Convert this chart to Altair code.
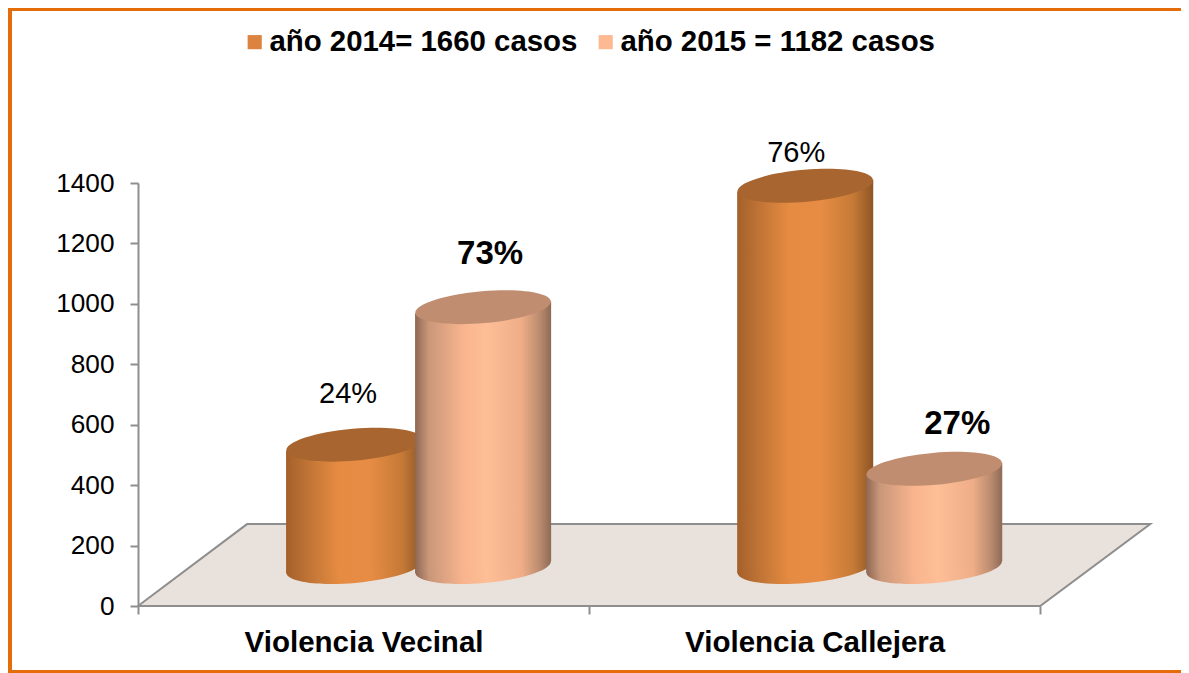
import altair as alt
import pandas as pd

categories = ["Violencia Vecinal", "Violencia Callejera"]
series = ["año 2014= 1660 casos", "año 2015 = 1182 casos"]
values_2014 = [405, 1262]
values_2015 = [860, 325]
labels_2014 = ["24%", "76%"]
labels_2015 = ["73%", "27%"]
y_ticks = [0, 200, 400, 600, 800, 1000, 1200, 1400]

FONT = "Liberation Sans"
BASE = 129        # height of the floor centre line on the value axis
TILT = 20         # half the rise of a cylinder's rim across its width
HALF = 0.1508     # half cylinder width in category units
CENTRES = [0.479, 0.765]  # cylinder centres inside a category unit
W, H = 1015, 423
GREY = "#8E8E8E"
ORANGE = "#E46C0A"

grad14 = {"gradient": "linear", "x1": 0, "x2": 1, "y1": 0, "y2": 0, "stops": [
    {"offset": 0, "color": "#A4602A"}, {"offset": 0.12, "color": "#B96F33"},
    {"offset": 0.38, "color": "#E58B42"}, {"offset": 0.62, "color": "#E68C44"},
    {"offset": 0.85, "color": "#C67A36"}, {"offset": 1, "color": "#8E5526"}]}
grad15 = {"gradient": "linear", "x1": 0, "x2": 1, "y1": 0, "y2": 0, "stops": [
    {"offset": 0, "color": "#8E6753"}, {"offset": 0.1, "color": "#C9977A"},
    {"offset": 0.35, "color": "#F8B48E"}, {"offset": 0.52, "color": "#FEBE96"},
    {"offset": 0.78, "color": "#EFAE88"}, {"offset": 0.92, "color": "#B98A6E"},
    {"offset": 1, "color": "#8E6A55"}]}
top14, top15 = "#A8652F", "#C18D70"
ELLIPSE = ("M-1,0C-1,-.13 -.552,-.235 0,-.235C.552,-.235 1,-.13 1,0"
           "C1,.13 .552,.235 0,.235C-.552,.235 -1,.13 -1,0Z")

X_EXPR = ("datum.value==0.5?'%s':datum.value==1.5?'%s':''" % tuple(categories))
x_axis = alt.Axis(values=[0, 0.5, 1, 1.5, 2], labelExpr=X_EXPR, title=None, domain=False,
                  grid=False, tickSize=8, tickWidth=2,
                  tickColor={"condition": {"test": "datum.value % 1 == 0", "value": GREY},
                             "value": "transparent"},
                  labelFont=FONT, labelFontSize=29.5, labelFontWeight="bold", labelColor="#000000",
                  labelPadding=14, labelOverlap=False, labelFlush=False, labelBound=False, labelLimit=500)
y_axis = alt.Axis(values=y_ticks, title=None, grid=False, domainColor=GREY, domainWidth=2, format="d",
                  tickColor=GREY, tickWidth=2, tickSize=8, labelFont=FONT, labelFontSize=26.2,
                  labelColor="#000000", labelPadding=16, labelOverlap=False, labelFlush=False)
xs = alt.Scale(domain=[0, 2.25], nice=False, zero=False)
ys = alt.Scale(domain=[0, 1400], nice=False, zero=False)


def X(field="x"):
    return alt.X(field + ":Q", scale=xs, axis=x_axis)


def Y(field):
    return alt.Y(field + ":Q", scale=ys, axis=y_axis)


floor_edge = pd.DataFrame({"x": [0, 0.2417, 2.244, 2, 0], "y": [0, 271, 271, 0, 0], "o": [0, 1, 2, 3, 4]})
floor_fill = pd.DataFrame({"x": [0, 0.2417, 2, 2.244], "y": [0, 271, 271, 271], "b": [0, 0, 0, 271]})

layers = [
    alt.Chart(floor_fill).mark_area(color="#E8E1DC", interpolate="linear").encode(
        x=X(), y=Y("y"), y2="b:Q"),
    alt.Chart(floor_edge).mark_line(color=GREY, strokeWidth=2, interpolate="linear").encode(
        x=X(), y=Y("y"), order="o:Q"),
]

# hidden-behind-the-cylinders points that carry the legend
legend_df = pd.DataFrame({"x": [CENTRES[0], CENTRES[1]], "y": [BASE, BASE], "s": series})
layers.append(alt.Chart(legend_df).mark_square(size=1, opacity=1).encode(
    x=X(), y=Y("y"),
    color=alt.Color("s:N", scale=alt.Scale(domain=series, range=["#DD8340", "#FDB991"]),
                    legend=alt.Legend(orient="none", legendX=102, legendY=-156, direction="horizontal",
                                      columns=2, title=None, symbolType="square", symbolSize=200,
                                      symbolOpacity=1, symbolStrokeWidth=0, labelFont=FONT,
                                      labelFontSize=29.4, labelFontWeight="bold", labelColor="#000000",
                                      labelOffset=0, labelLimit=400, columnPadding=13, padding=0))))

for s, vals, grad, top, offs in [(0, values_2014, grad14, top14, CENTRES[0]),
                                 (1, values_2015, grad15, top15, CENTRES[1])]:
    body, rims = [], []
    for i, v in enumerate(vals):
        c = i + offs
        rims.append({"x": c, "base": BASE, "top": BASE + v})
        for side in (-1, 1):
            body.append({"c": i, "x": c + side * HALF,
                         "t": BASE + v + side * TILT, "b": BASE + side * TILT})
    body, rims = pd.DataFrame(body), pd.DataFrame(rims)
    ell = dict(shape=ELLIPSE, filled=True, size=136 ** 2, angle=355, opacity=1, strokeWidth=0)
    layers += [
        alt.Chart(rims).mark_point(color=grad, **ell).encode(x=X(), y=Y("base")),
        alt.Chart(body).mark_area(color=grad, interpolate="linear").encode(
            x=X(), y=Y("t"), y2="b:Q", detail="c:N"),
        alt.Chart(rims).mark_point(color=top, **ell).encode(x=X(), y=Y("top")),
    ]

text_specs = [
    (0, values_2014[0], CENTRES[0], labels_2014[0], "normal", 29, -6, -51),
    (0, values_2015[0], CENTRES[1], labels_2015[0], "bold", 33, 7, -53),
    (1, values_2014[1], CENTRES[0], labels_2014[1], "normal", 29, -9, -33),
    (1, values_2015[1], CENTRES[1], labels_2015[1], "bold", 33, 23, -45),
]
for i, v, off, label, weight, size, dx, dy in text_specs:
    df = pd.DataFrame({"x": [i + off], "y": [BASE + v], "t": [label]})
    layers.append(alt.Chart(df).mark_text(font=FONT, fontSize=size, fontWeight=weight, color="#000000",
                                          dx=dx, dy=dy, baseline="middle", align="center").encode(
        x=X(), y=Y("y"), text="t:N"))

# chart frame (left, top and bottom only)
frame = pd.DataFrame({"k": [0]})
LEFT, TOP, BOTTOM, RIGHT = 130, 175, 67, 28
layers += [
    alt.Chart(frame).mark_rule(color=ORANGE, strokeWidth=4).encode(
        x=alt.value(-128), y=alt.value(-TOP), y2=alt.value(H + BOTTOM)),
    alt.Chart(frame).mark_rule(color=ORANGE, strokeWidth=3).encode(
        x=alt.value(-LEFT), x2=alt.value(W + RIGHT), y=alt.value(-173.5)),
    alt.Chart(frame).mark_rule(color=ORANGE, strokeWidth=3).encode(
        x=alt.value(-LEFT), x2=alt.value(W + RIGHT), y=alt.value(H + BOTTOM - 1.5)),
]

chart = alt.layer(*layers).properties(
    width=W, height=H,
    autosize=alt.AutoSizeParams(type="none"),
    padding={"left": LEFT, "top": TOP, "right": RIGHT, "bottom": BOTTOM},
    background="#FFFFFF",
).configure_view(stroke=None)

chart.save("out.html", embed_options={"renderer": "svg", "actions": False})
